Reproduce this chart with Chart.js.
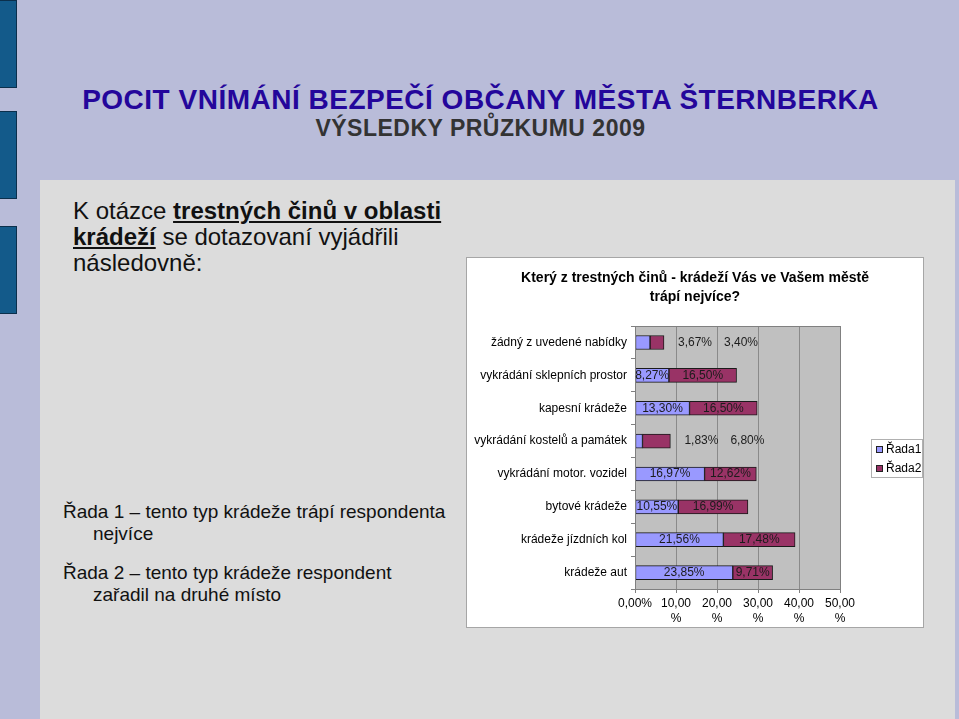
<!DOCTYPE html>
<html lang="cs">
<head>
<meta charset="utf-8">
<title>Pocit vnímání bezpečí – krádeže</title>
<script src="https://cdn.jsdelivr.net/npm/chart.js@4/dist/chart.umd.min.js"></script>
<style>
    html, body {
        margin: 0;
        padding: 0;
    }
    body {
        width: 959px;
        height: 719px;
        overflow: hidden;
        position: relative;
        background: #b9bcd9;
        font-family: 'Liberation Sans', Arial, sans-serif;
        color: #111;
    }
    .tab {
        position: absolute;
        left: 0;
        width: 17px;
        background: #135a8a;
        border: 1px solid #0b2f4c;
        border-left: none;
        box-sizing: border-box;
    }
    .slide-title {
        position: absolute;
        left: 0;
        width: 961px;
        text-align: center;
        font-weight: bold;
        white-space: nowrap;
    }
    #mainTitle {
        top: 85px;
        font-size: 28px;
        line-height: 30px;
        letter-spacing: 0.5px;
        color: #24069b;
    }
    #subTitle {
        top: 115px;
        font-size: 23px;
        line-height: 26px;
        letter-spacing: 0.5px;
        color: #333;
    }
    #panel {
        position: absolute;
        left: 40px;
        top: 180px;
        width: 915px;
        height: 539px;
        background: #dcdcdc;
    }
    #intro {
        position: absolute;
        left: 73px;
        top: 198px;
        font-size: 24px;
        line-height: 26px;
        white-space: nowrap;
    }
    #intro b {
        text-decoration: underline;
    }
    .note {
        position: absolute;
        left: 63px;
        font-size: 19px;
        line-height: 22px;
        white-space: nowrap;
    }
    .note span {
        display: block;
        padding-left: 30px;
    }
    #chartBox {
        position: absolute;
        left: 466px;
        top: 257px;
        width: 458px;
        height: 371px;
        background: #fff;
        border: 1px solid #a6a6a6;
        box-sizing: border-box;
    }
    #theftChart {
        position: absolute;
        left: 0;
        top: 0;
    }
</style>
</head>
<body>
<div class="tab" style="top:0;height:88px"></div>
<div class="tab" style="top:111px;height:88px"></div>
<div class="tab" style="top:226px;height:88px"></div>

<div id="mainTitle" class="slide-title">POCIT VNÍMÁNÍ BEZPEČÍ OBČANY MĚSTA ŠTERNBERKA</div>
<div id="subTitle" class="slide-title">VÝSLEDKY PRŮZKUMU 2009</div>

<div id="panel"></div>

<div id="intro">K otázce <b>trestných činů v oblasti</b><br><b>krádeží</b> se dotazovaní vyjádřili<br>následovně:</div>

<div class="note" style="top:501px">Řada 1 – tento typ krádeže trápí respondenta<span>nejvíce</span></div>
<div class="note" style="top:562px">Řada 2 – tento typ krádeže respondent<span>zařadil na druhé místo</span></div>

<div id="chartBox">
    <canvas id="theftChart" width="456" height="369"></canvas>
</div>

<script>
const categories = [
    'žádný z uvedené nabídky',
    'vykrádání sklepních prostor',
    'kapesní krádeže',
    'vykrádání kostelů a památek',
    'vykrádání motor. vozidel',
    'bytové krádeže',
    'krádeže jízdních kol',
    'krádeže aut'
];
const rada1 = [3.67, 8.27, 13.30, 1.83, 16.97, 10.55, 21.56, 23.85];
const rada2 = [3.40, 16.50, 16.50, 6.80, 12.62, 16.99, 17.48, 9.71];
const seriesNames = ['Řada1', 'Řada2'];
const seriesColors = ['#9999ff', '#993366'];
const xTicks = [0, 10, 20, 30, 40, 50];

const FONT = "'Liberation Sans', Arial, sans-serif";
Chart.defaults.font.family = FONT;
Chart.defaults.color = '#000';

function pct(v) {
    return v.toFixed(2).replace('.', ',') + '%';
}

// grey plot background + frame
const plotBackground = {
    id: 'plotBackground',
    beforeDraw(chart) {
        const { ctx, chartArea: a } = chart;
        ctx.save();
        ctx.fillStyle = '#c0c0c0';
        ctx.fillRect(a.left, a.top, a.right - a.left, a.bottom - a.top);
        ctx.restore();
    },
    afterDatasetsDraw(chart) {
        const { ctx, chartArea: a } = chart;
        ctx.save();
        ctx.strokeStyle = '#808080';
        ctx.lineWidth = 1;
        ctx.strokeRect(Math.round(a.left) + 0.5, Math.round(a.top) + 0.5,
            Math.round(a.right - a.left), Math.round(a.bottom - a.top));
        ctx.restore();
    }
};

// value labels, moved beside the bar when a segment is too short
const valueLabels = {
    id: 'valueLabels',
    afterDatasetsDraw(chart) {
        const { ctx } = chart;
        const m0 = chart.getDatasetMeta(0).data;
        const m1 = chart.getDatasetMeta(1).data;
        ctx.save();
        ctx.font = '12px ' + FONT;
        ctx.fillStyle = '#1c1c1c';
        ctx.textBaseline = 'middle';
        categories.forEach((c, i) => {
            const b0 = m0[i], b1 = m1[i];
            const t0 = pct(rada1[i]), t1 = pct(rada2[i]);
            const w0 = b0.x - b0.base, w1 = b1.x - b1.base;
            if (w0 < 20 || w1 < 20) {
                let x = b1.x + 14;
                ctx.textAlign = 'left';
                ctx.fillText(t0, x, b0.y);
                x += ctx.measureText(t0).width + 12;
                ctx.fillText(t1, x, b1.y);
            } else {
                ctx.textAlign = 'center';
                ctx.fillText(t0, (b0.x + b0.base) / 2, b0.y);
                ctx.fillText(t1, (b1.x + b1.base) / 2, b1.y);
            }
        });
        ctx.restore();
    }
};

// boxed legend to the right of the plot
const boxLegend = {
    id: 'boxLegend',
    afterDraw(chart) {
        const { ctx, chartArea: a } = chart;
        const x0 = Math.round(a.right) + 31;
        const y0 = Math.round((a.top + a.bottom) / 2) - 19;
        ctx.save();
        ctx.fillStyle = '#fff';
        ctx.fillRect(x0, y0, 51, 38);
        ctx.strokeStyle = '#b0b0b0';
        ctx.strokeRect(x0 + 0.5, y0 + 0.5, 51, 38);
        ctx.font = '12px ' + FONT;
        ctx.textBaseline = 'middle';
        ctx.textAlign = 'left';
        chart.data.datasets.forEach((ds, i) => {
            const cy = y0 + 10 + i * 19;
            ctx.fillStyle = ds.backgroundColor;
            ctx.fillRect(x0 + 5, cy - 3, 7, 7);
            ctx.strokeStyle = '#222';
            ctx.strokeRect(x0 + 5.5, cy - 2.5, 6, 6);
            ctx.fillStyle = '#000';
            ctx.fillText(ds.label, x0 + 15, cy + 1);
        });
        ctx.restore();
    }
};

const ctx = document.getElementById('theftChart').getContext('2d');
const theftChart = new Chart(ctx, {
    type: 'bar',
    data: {
        labels: categories,
        datasets: [rada1, rada2].map((vals, i) => ({
            label: seriesNames[i],
            data: vals,
            xAxisID: 'x',
            yAxisID: 'y',
            backgroundColor: seriesColors[i],
            borderColor: '#1a1a1a',
            borderWidth: 1,
            borderSkipped: false,
            barThickness: 14
        }))
    },
    options: {
        indexAxis: 'y',
        responsive: false,
        animation: false,
        devicePixelRatio: 1,
        layout: {
            padding: 0
        },
        plugins: {
            legend: { display: false },
            tooltip: { enabled: false },
            title: {
                display: true,
                text: ['Který z trestných činů - krádeží Vás ve Vašem městě', 'trápí nejvíce?'],
                color: '#000',
                font: { size: 14, weight: 'bold', lineHeight: 1.36 },
                padding: { top: 11, bottom: 19 }
            }
        },
        scales: {
            x: {
                stacked: true,
                min: 0,
                max: 50,
                afterBuildTicks(scale) {
                    scale.ticks = xTicks.map(v => ({ value: v }));
                },
                afterFit(scale) {
                    scale.height = 38;
                },
                border: { color: '#808080' },
                grid: {
                    color: '#8a8a8a',
                    tickLength: 4,
                    tickColor: '#808080'
                },
                ticks: {
                    padding: 3,
                    maxRotation: 0,
                    autoSkip: false,
                    font: { size: 12, lineHeight: 1.25 },
                    color: '#000',
                    callback: v => v === 0 ? '0,00%' : [v.toFixed(2).replace('.', ','), '%']
                }
            },
            y: {
                stacked: true,
                afterFit(scale) {
                    scale.width = 168;
                },
                border: { color: '#808080' },
                grid: {
                    offset: true,
                    drawOnChartArea: false,
                    tickLength: 4,
                    color: '#808080'
                },
                ticks: {
                    padding: 4,
                    autoSkip: false,
                    font: { size: 12 },
                    color: '#000'
                }
            },
            // empty right-hand band that leaves room for the legend box
            legendSpace: {
                type: 'linear',
                axis: 'y',
                position: 'right',
                display: true,
                afterFit(scale) {
                    scale.width = 83;
                },
                border: { display: false },
                grid: { display: false },
                ticks: { display: false }
            }
        }
    },
    plugins: [plotBackground, valueLabels, boxLegend]
});
</script>
</body>
</html>
